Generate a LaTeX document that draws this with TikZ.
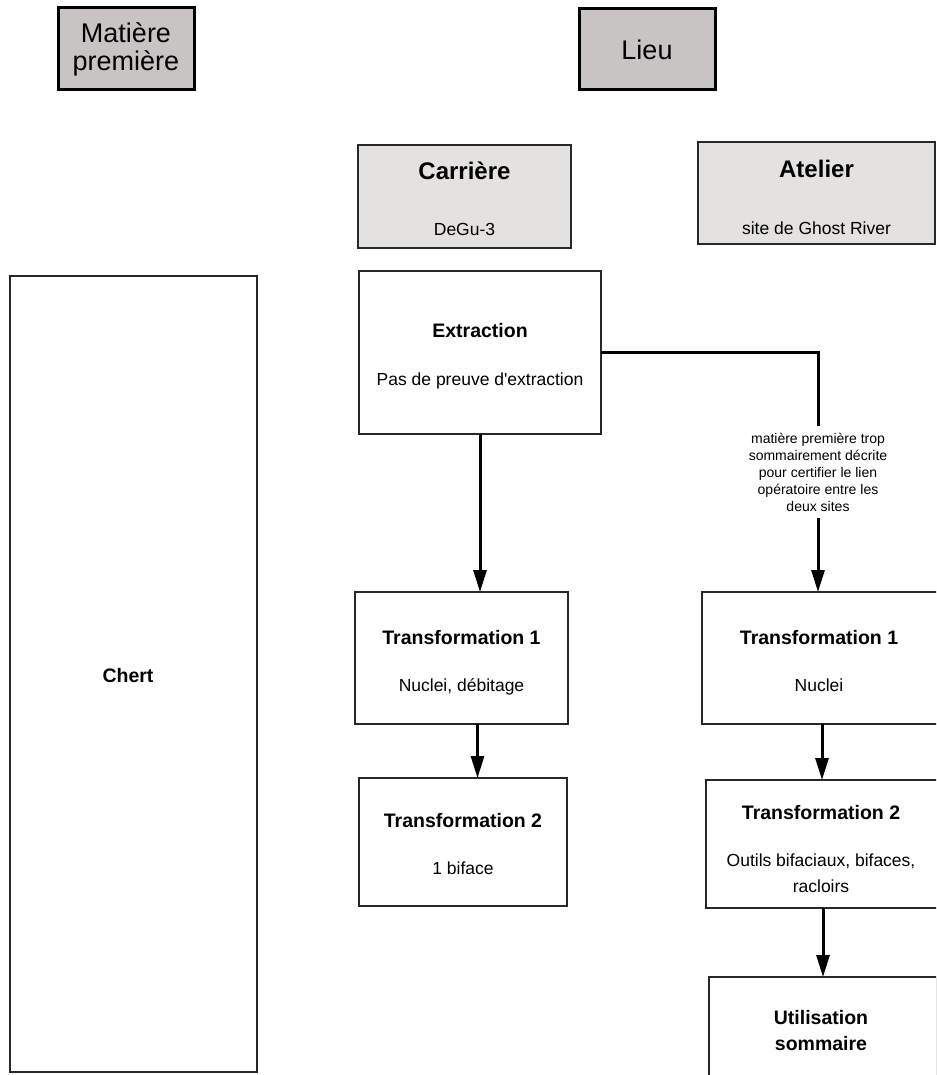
\documentclass[tikz,border=0pt]{standalone}
\usepackage{fontspec}
\setmainfont{Liberation Sans}
\usetikzlibrary{arrows.meta}
\definecolor{hdr}{RGB}{200,196,196}
\definecolor{sub}{RGB}{228,226,224}
\definecolor{edge}{RGB}{40,40,40}
\tikzset{
  hdrbox/.style={draw=black, line width=3pt, fill=hdr, inner sep=0pt, outer sep=0pt,
    font=\fontsize{27}{28}\selectfont, align=center},
  subbox/.style={draw=edge, line width=1.5pt, fill=sub, inner sep=0pt, outer sep=0pt},
  stepbox/.style={draw=edge, line width=1.5pt, fill=white, inner sep=0pt, outer sep=0pt},
  chertbox/.style={draw=edge, line width=2pt, fill=white, inner sep=0pt, outer sep=0pt},
  bigtitle/.style={font=\bfseries\fontsize{24}{26}\selectfont, anchor=base, inner sep=0pt},
  title/.style={font=\bfseries\fontsize{19.5}{26}\selectfont, anchor=base, inner sep=0pt},
  body/.style={font=\fontsize{17.5}{26}\selectfont, anchor=base, inner sep=0pt},
  notetext/.style={font=\fontsize{14}{17}\selectfont, align=center, inner xsep=2pt, inner ysep=7pt},
  conn/.style={line width=3pt, -{Triangle[length=22pt,width=13pt]}},
  link/.style={line width=3pt},
}
\begin{document}
\begin{tikzpicture}[x=1pt, y=-1pt]
\useasboundingbox (0,0) rectangle (936,1075);
\clip (0,0) rectangle (936,1075);
% headers
\node[hdrbox, minimum width=136pt, minimum height=82pt] (mp) at (126,49) {Matière\\première};
\node[hdrbox, minimum width=136pt, minimum height=81pt] (lieu) at (647,49.5) {Lieu};
% places
\node[subbox, minimum width=213pt, minimum height=103pt] (carr) at (464.5,196.5) {};
\node[bigtitle] (carrt) at (464.5,180) {Carrière};
\node[body] (carrb) at (464.5,236) {DeGu-3};
\node[subbox, minimum width=237pt, minimum height=102pt] (atel) at (816.5,193) {};
\node[bigtitle] (atelt) at (816.5,178) {Atelier};
\node[body] (atelb) at (816.5,234) {site de Ghost River};
% raw material
\node[chertbox, minimum width=247pt, minimum height=796pt] (chert) at (133.5,674) {};
\node[title] (chertt) at (128,682) {Chert};
% quarry chain
\node[stepbox, minimum width=242pt, minimum height=163pt] (ext) at (480,352.5) {};
\node[title] (extt) at (480,337) {Extraction};
\node[body] (extb) at (480,385) {Pas de preuve d\textquotesingle extraction};
\node[stepbox, minimum width=213pt, minimum height=132pt] (t1l) at (461.5,658) {};
\node[title] (t1lt) at (461.5,644) {Transformation 1};
\node[body] (t1lb) at (461.5,691) {Nuclei, débitage};
\node[stepbox, minimum width=208pt, minimum height=128pt] (t2l) at (463,842) {};
\node[title] (t2lt) at (463,827) {Transformation 2};
\node[body] (t2lb) at (463,874) {1 biface};
% workshop chain
\node[stepbox, minimum width=240pt, minimum height=132pt] (t1r) at (822,658) {};
\node[title] (t1rt) at (819,644) {Transformation 1};
\node[body] (t1rb) at (819,691) {Nuclei};
\node[stepbox, minimum width=234pt, minimum height=128pt] (t2r) at (823,844) {};
\node[title] (t2rt) at (821,819) {Transformation 2};
\node[body] (t2rb1) at (821,866) {Outils bifaciaux, bifaces,};
\node[body] (t2rb2) at (821,892) {racloirs};
\node[stepbox, minimum width=228pt, minimum height=108pt] (util) at (823,1031) {};
\node[title] (utilt1) at (821,1024) {Utilisation};
\node[title] (utilt2) at (821,1050) {sommaire};
% note
\node[notetext] (note) at (818,472) {matière première trop\\sommairement décrite\\pour certifier le lien\\opératoire entre les\\deux sites};
% connectors
\draw[link] (ext.east) -| (note.north);
\draw[conn] (note.south) -- (note.south |- t1r.north);
\draw[conn] (ext.south) -- (ext.south |- t1l.north);
\draw[conn] ([xshift=16pt]t1l.south) -- ([xshift=16pt]t1l.south |- t2l.north);
\draw[conn] (t1r.south) -- (t1r.south |- t2r.north);
\draw[conn] (t2r.south) -- (t2r.south |- util.north);
\end{tikzpicture}
\end{document}
